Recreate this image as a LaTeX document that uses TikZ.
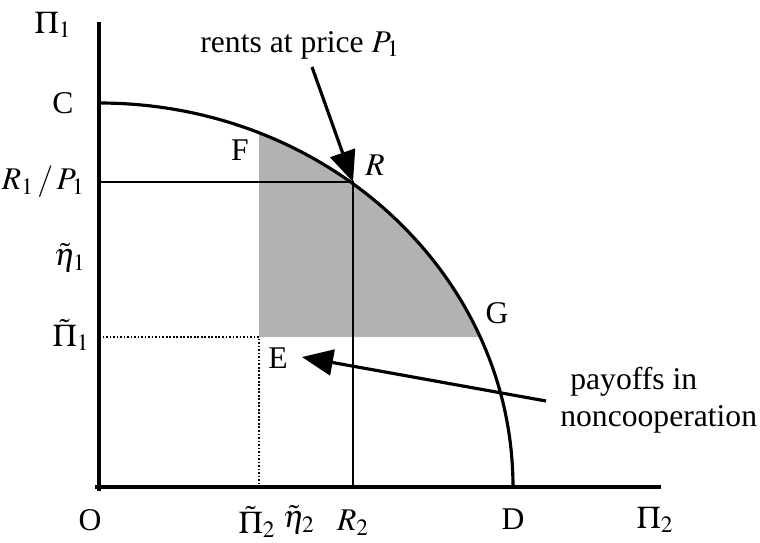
\documentclass[tikz,border=0pt]{standalone}
\usepackage{mathptmx}
\usepackage{fontspec}
\setmainfont{Liberation Serif}
\usetikzlibrary{arrows.meta}
\tikzset{
	lbl/.style = {font=\fontsize{18}{21}\selectfont, inner sep=0pt},
	thin line/.style = {line width=0.9pt},
	thick line/.style = {line width=1.8pt},
	bigarrow/.style = {line width=1.8pt, -{Triangle[length=0.62cm, width=0.52cm]}},
}
\begin{document}
\begin{tikzpicture}[x=0.02cm, y=0.02cm]
		\useasboundingbox (-99,-55) rectangle (661,487);
		\coordinate (O) at (0,0);
		\coordinate (C) at (0,384);
		\coordinate (D) at (414,0);
		\coordinate (R) at (254,305);
		\coordinate (E) at (160,150);
		\coordinate (top) at (0,465);
		\coordinate (right) at (562,0);
		% shaded set of payoffs above E
		\fill[gray!60] (E) -- (160,354) arc[start angle=67.26, end angle=22.99, x radius=414, y radius=384] -- cycle;
		\draw[thin line] (O |- R) -- (R) -- (R |- O);
		\draw[thin line, dash pattern=on 1pt off 1pt] (O |- E) -- (E) -- (E |- O);
		\draw[thick line] (C) arc[start angle=90, end angle=0, x radius=414, y radius=384];
		\draw[thick line] (top) -- (0,-4) (-4,0) -- (right);
		\node[lbl] (Pi1) at (-46,462) {$\Pi_1$};
		\node[lbl] (Clbl) at (-36,384) {C};
		\node[lbl, anchor=east] (RPlbl) at (-14,305) {$R_1\mskip2mu/\mskip2mu P_1$};
		\node[lbl] (eta1) at (-29,229) {$\tilde{\eta}_1$};
		\node[lbl] (tPi1) at (-28,152) {$\tilde{\Pi}_1$};
		\node[lbl] (Olbl) at (-9,-33) {O};
		\node[lbl] (tPi2) at (158,-35) {$\tilde{\Pi}_2$};
		\node[lbl] (eta2) at (200,-33) {$\tilde{\eta}_2$};
		\node[lbl] (R2) at (254,-36) {$R_2$};
		\node[lbl] (Dlbl) at (414,-32) {D};
		\node[lbl] (Pi2) at (556,-33) {$\Pi_2$};
		\node[lbl] (Flbl) at (141,337) {F};
		\node[lbl] (Rlbl) at (276,322) {$R$};
		\node[lbl] (Glbl) at (398,174) {G};
		\node[lbl] (Elbl) at (179,129) {E};
		\node[lbl] (rents) at (201,442) {rents at price $P_1$};
		\node[lbl, align=left, anchor=west] (pay) at (461,87) {\hspace*{0.2cm}payoffs in\\noncooperation};
		\coordinate (rentsfoot) at (213,420);
		\coordinate (payfoot) at (447,86);
		\coordinate (etip) at (203,130);
		\draw[bigarrow] (rentsfoot) -- (R);
		\draw[bigarrow] (payfoot) -- (etip);
	\end{tikzpicture}
\end{document}
